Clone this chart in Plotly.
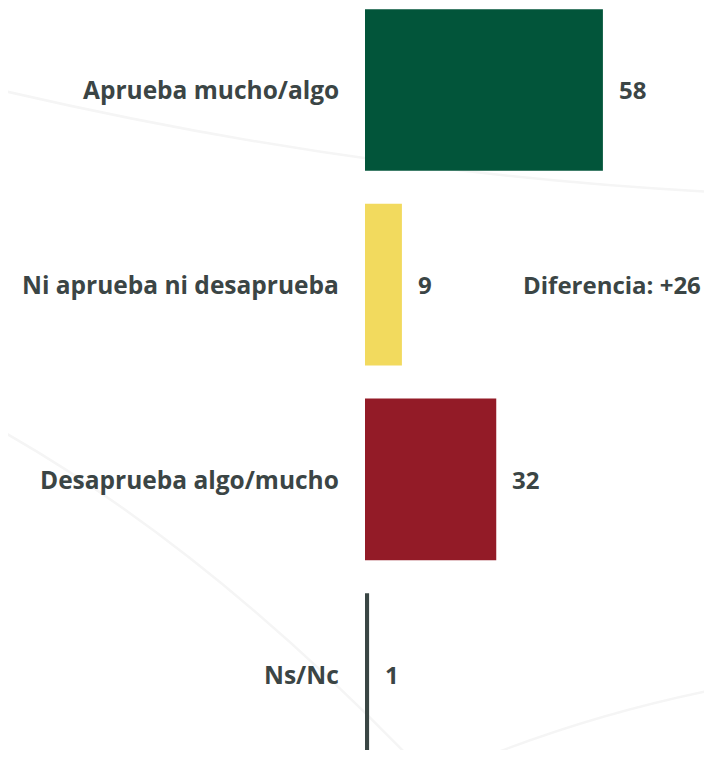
import plotly.graph_objects as go

categories = ["Aprueba mucho/algo", "Ni aprueba ni desaprueba", "Desaprueba algo/mucho", "Ns/Nc"]
values = [58, 9, 32, 1]
bar_colors = ["#02553A", "#F2DA5E", "#931B27", "#3A4644"]
diff_label = "Diferencia: +26"

TEXT = "#3B4545"
FONT = "Open Sans"
W, H = 704, 742  # page adds an 8px body margin
ML = 357


def px(sx, sy):
    # screen pixel -> paper coords (paper = plot area)
    return (sx - 8 - ML) / (W - ML), 1 - (sy - 8) / H


def curve(p0, c, p1):
    (x0, y0), (cx, cy), (x1, y1) = px(*p0), px(*c), px(*p1)
    return f"M {x0} {y0} Q {cx} {cy} {x1} {y1}"


fig = go.Figure()

fig.add_trace(
    go.Bar(
        y=categories,
        x=values,
        orientation="h",
        marker=dict(color=bar_colors, line=dict(width=0)),
        width=0.83,
        hoverinfo="skip",
    )
)

# faint background swooshes
for path in [
    curve((0, 90), (356, 173), (712, 192)),
    curve((0, 430), (205, 546), (410, 758)),
    curve((712, 690), (590, 715), (483, 758)),
]:
    fig.add_shape(
        type="path", path=path, xref="paper", yref="paper",
        line=dict(color="#F5F5F5", width=2.5), layer="below",
    )

# category labels on the left
for cat in categories:
    fig.add_annotation(
        x=0, y=cat, xref="paper", yref="y",
        text=f"<b>{cat}</b>", showarrow=False,
        xanchor="right", xshift=-24,
        font=dict(family=FONT, size=24.5, color=TEXT),
    )

# value labels
for cat, v in zip(categories, values):
    fig.add_annotation(
        x=v, y=cat, xref="x", yref="y",
        text=f"<b>{v}</b>", showarrow=False,
        xanchor="left", xshift=14,
        font=dict(family=FONT, size=24, color=TEXT),
    )

fig.add_annotation(
    x=1, y=categories[1], xref="paper", yref="y",
    text=f"<b>{diff_label}</b>", showarrow=False,
    xanchor="right", xshift=-9,
    font=dict(family=FONT, size=24, color=TEXT),
)

fig.update_xaxes(range=[0, 84.6], visible=False)
fig.update_yaxes(range=[3.390, -0.421], visible=False)

fig.update_layout(
    width=W,
    height=H,
    margin=dict(l=ML, r=0, t=0, b=0),
    plot_bgcolor="rgba(0,0,0,0)",
    paper_bgcolor="white",
    showlegend=False,
)

fig.write_html("out.html")
